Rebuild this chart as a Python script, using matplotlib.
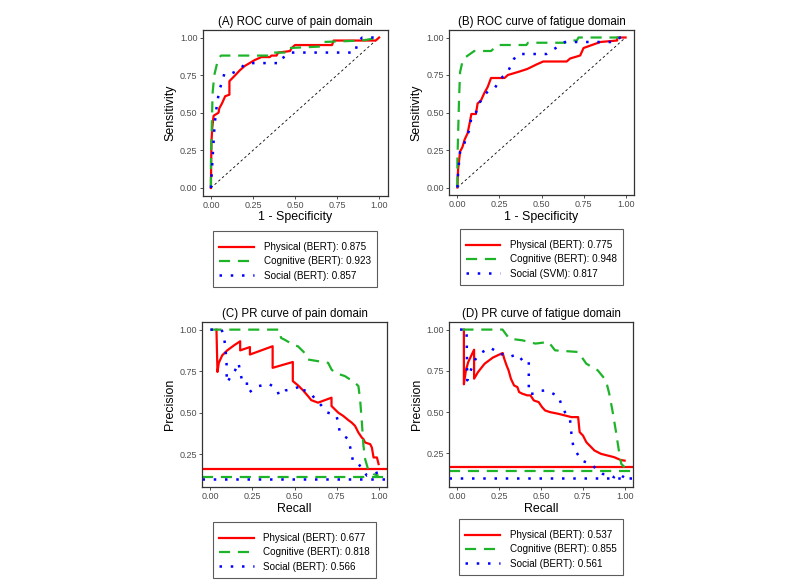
import numpy as np
import matplotlib
matplotlib.use("Agg")
import matplotlib.pyplot as plt

plt.rcParams['font.family'] = ['Liberation Sans', 'DejaVu Sans']

RED = '#FF0000'
GREEN = '#1EB42A'
BLUE = '#0000FF'

# ---- ROC, pain domain (1 - specificity, sensitivity)
roc_pain_phys_x = [0, 0.003, 0.008, 0.016, 0.045, 0.05, 0.065, 0.085, 0.11, 0.11, 0.145, 0.17, 0.2, 0.23, 0.26, 0.3, 0.35, 0.36, 0.39, 0.4, 0.47, 0.48, 0.5, 0.72, 0.73, 0.98, 1.0]
roc_pain_phys_y = [0, 0.30, 0.40, 0.48, 0.50, 0.53, 0.56, 0.61, 0.62, 0.71, 0.75, 0.78, 0.81, 0.83, 0.85, 0.87, 0.87, 0.88, 0.88, 0.90, 0.91, 0.93, 0.95, 0.95, 0.98, 0.98, 1.0]
roc_pain_cog_x = [0, 0, 0.005, 0.01, 0.02, 0.035, 0.045, 0.06, 0.36, 0.37, 0.45, 0.46, 0.65, 0.66, 0.9, 1.0]
roc_pain_cog_y = [0, 0.15, 0.40, 0.63, 0.75, 0.82, 0.86, 0.88, 0.88, 0.90, 0.90, 0.93, 0.94, 0.97, 0.98, 1.0]
roc_pain_soc_x = [0, 0.004, 0.01, 0.016, 0.022, 0.035, 0.05, 0.065, 0.08, 0.12, 0.16, 0.2, 0.25, 0.3, 0.41, 0.42, 0.45, 0.47, 0.86, 0.87, 0.9, 1.0]
roc_pain_soc_y = [0, 0.08, 0.2, 0.31, 0.42, 0.55, 0.65, 0.7, 0.76, 0.76, 0.78, 0.82, 0.83, 0.83, 0.83, 0.86, 0.88, 0.90, 0.90, 0.97, 1.0, 1.0]

# ---- ROC, fatigue domain
roc_fat_phys_x = [0, 0.004, 0.016, 0.03, 0.043, 0.06, 0.073, 0.083, 0.11, 0.12, 0.14, 0.16, 0.18, 0.2, 0.28, 0.3, 0.36, 0.415, 0.47, 0.51, 0.65, 0.67, 0.73, 0.75, 0.8, 0.85, 0.95, 0.95, 1.0]
roc_fat_phys_y = [0, 0.12, 0.24, 0.27, 0.32, 0.36, 0.43, 0.49, 0.49, 0.56, 0.58, 0.63, 0.67, 0.73, 0.73, 0.75, 0.77, 0.79, 0.82, 0.84, 0.84, 0.86, 0.88, 0.93, 0.95, 0.97, 0.98, 1.0, 1.0]
roc_fat_cog_x = [0, 0, 0.004, 0.01, 0.016, 0.03, 0.05, 0.1, 0.2, 0.24, 0.41, 0.42, 0.64, 0.66, 0.71, 0.72, 1.0]
roc_fat_cog_y = [0, 0.18, 0.35, 0.6, 0.77, 0.84, 0.87, 0.91, 0.91, 0.95, 0.95, 0.965, 0.965, 0.98, 0.98, 1.0, 1.0]
roc_fat_soc_x = [0, 0.004, 0.016, 0.04, 0.055, 0.07, 0.085, 0.11, 0.13, 0.15, 0.18, 0.22, 0.25, 0.27, 0.3, 0.32, 0.335, 0.36, 0.53, 0.57, 0.6, 0.64, 0.93, 0.95, 0.97, 1.0]
roc_fat_soc_y = [0, 0.1, 0.24, 0.29, 0.34, 0.38, 0.48, 0.50, 0.56, 0.60, 0.64, 0.66, 0.71, 0.74, 0.77, 0.82, 0.855, 0.89, 0.89, 0.92, 0.94, 0.97, 0.97, 0.99, 1.0, 1.0]

# ---- PR, pain domain (recall, precision)
pr_pain_phys_x = [0.036, 0.042, 0.05, 0.07, 0.1, 0.14, 0.177, 0.177, 0.235, 0.235, 0.37, 0.37, 0.49, 0.49, 0.52, 0.55, 0.58, 0.6, 0.64, 0.72, 0.72, 0.76, 0.79, 0.82, 0.84, 0.86, 0.88, 0.9, 0.91, 0.92, 0.95, 0.96, 0.97, 0.99, 1.0]
pr_pain_phys_y = [1.0, 0.745, 0.80, 0.845, 0.875, 0.905, 0.93, 0.875, 0.895, 0.85, 0.90, 0.77, 0.805, 0.69, 0.665, 0.635, 0.6, 0.575, 0.56, 0.59, 0.54, 0.5, 0.48, 0.455, 0.44, 0.42, 0.38, 0.35, 0.34, 0.32, 0.31, 0.29, 0.23, 0.23, 0.19]
pr_pain_cog_x = [0, 0.41, 0.42, 0.44, 0.5, 0.52, 0.56, 0.58, 0.7, 0.72, 0.74, 0.8, 0.86, 0.88, 0.89, 0.9, 0.91, 0.92, 0.94, 0.97, 1.0]
pr_pain_cog_y = [1.0, 1.0, 0.95, 0.94, 0.905, 0.9, 0.86, 0.82, 0.80, 0.76, 0.74, 0.72, 0.68, 0.66, 0.58, 0.45, 0.3, 0.22, 0.15, 0.13, 0.12]
pr_pain_soc_x = [0, 0.066, 0.08, 0.086, 0.092, 0.096, 0.096, 0.1, 0.116, 0.147, 0.167, 0.177, 0.189, 0.217, 0.217, 0.233, 0.277, 0.307, 0.347, 0.378, 0.398, 0.408, 0.448, 0.498, 0.548, 0.558, 0.598, 0.629, 0.659, 0.689, 0.719, 0.749, 0.759, 0.769, 0.789, 0.819, 0.829, 0.839, 0.849, 0.88, 0.91, 0.93, 0.97, 1.0]
pr_pain_soc_y = [1.0, 1.0, 0.966, 0.915, 0.855, 0.795, 0.735, 0.68, 0.71, 0.755, 0.8, 0.745, 0.69, 0.69, 0.634, 0.624, 0.658, 0.664, 0.674, 0.654, 0.634, 0.604, 0.634, 0.644, 0.664, 0.634, 0.614, 0.574, 0.544, 0.503, 0.493, 0.483, 0.443, 0.383, 0.363, 0.342, 0.302, 0.252, 0.202, 0.192, 0.151, 0.121, 0.131, 0.141]

# ---- PR, fatigue domain
pr_fat_phys_x = [0.039, 0.039, 0.051, 0.065, 0.084, 0.1, 0.1, 0.124, 0.163, 0.212, 0.271, 0.28, 0.294, 0.306, 0.32, 0.339, 0.359, 0.369, 0.388, 0.418, 0.437, 0.457, 0.486, 0.506, 0.525, 0.555, 0.604, 0.643, 0.682, 0.722, 0.731, 0.751, 0.771, 0.79, 0.82, 0.859, 0.898, 0.937, 0.976, 1.0]
pr_fat_phys_y = [1.0, 0.668, 0.753, 0.803, 0.844, 0.878, 0.702, 0.743, 0.793, 0.83, 0.858, 0.824, 0.783, 0.753, 0.702, 0.661, 0.651, 0.621, 0.611, 0.601, 0.601, 0.57, 0.56, 0.53, 0.509, 0.499, 0.489, 0.479, 0.469, 0.469, 0.378, 0.357, 0.317, 0.297, 0.266, 0.246, 0.236, 0.226, 0.209, 0.205]
pr_fat_cog_x = [0.03, 0.27, 0.31, 0.388, 0.467, 0.545, 0.584, 0.722, 0.771, 0.839, 0.888, 0.908, 0.927, 0.947, 0.967, 0.98, 1.0]
pr_fat_cog_y = [1.0, 1.0, 0.945, 0.935, 0.915, 0.925, 0.874, 0.864, 0.793, 0.753, 0.692, 0.611, 0.509, 0.388, 0.256, 0.185, 0.165]
pr_fat_soc_x = [0.016, 0.055, 0.059, 0.084, 0.104, 0.133, 0.196, 0.222, 0.241, 0.271, 0.31, 0.359, 0.388, 0.427, 0.427, 0.457, 0.486, 0.525, 0.565, 0.604, 0.624, 0.643, 0.673, 0.682, 0.692, 0.712, 0.741, 0.771, 0.8, 0.839, 0.869, 0.908, 0.937, 0.967, 0.996]
pr_fat_soc_y = [1.0, 1.0, 0.692, 0.763, 0.814, 0.854, 0.891, 0.874, 0.85, 0.85, 0.834, 0.85, 0.814, 0.814, 0.611, 0.611, 0.627, 0.631, 0.615, 0.595, 0.54, 0.499, 0.459, 0.368, 0.297, 0.256, 0.205, 0.195, 0.185, 0.145, 0.124, 0.12, 0.104, 0.124, 0.104]

# baselines (class prevalence) for the PR panels: physical, cognitive, social
pr_pain_base = [0.16, 0.115, 0.10]
pr_fat_base = [0.165, 0.145, 0.10]

# legend texts
labels_a = ['Physical (BERT): 0.875', 'Cognitive (BERT): 0.923', 'Social (BERT): 0.857']
labels_b = ['Physical (BERT): 0.775', 'Cognitive (BERT): 0.948', 'Social (SVM): 0.817']
labels_c = ['Physical (BERT): 0.677', 'Cognitive (BERT): 0.818', 'Social (BERT): 0.566']
labels_d = ['Physical (BERT): 0.537', 'Cognitive (BERT): 0.855', 'Social (BERT): 0.561']

ticks = [0, 0.25, 0.5, 0.75, 1.0]
tick_labels = ['0.00', '0.25', '0.50', '0.75', '1.00']

styles = [
    dict(color=RED, lw=1.6, ls='-'),
    dict(color=GREEN, lw=1.6, ls=(0, (5, 3.5))),
    dict(color=BLUE, lw=1.8, ls=(0, (1, 3.5))),
]


def style_axes(ax, title, xlabel, ylabel, ylim, yticks):
    ax.set_xlim(-0.05, 1.05)
    ax.set_ylim(*ylim)
    ax.set_xticks(ticks)
    ax.set_xticklabels(tick_labels)
    ax.set_yticks(yticks)
    ax.set_yticklabels(['%.2f' % t for t in yticks])
    ax.tick_params(length=2.2, width=0.6, color='#333333', labelcolor='#4D4D4D',
                   labelsize=6.5, pad=1.5)
    for s in ax.spines.values():
        s.set_color('#333333')
        s.set_linewidth(0.9)
    ax.set_title(title, fontsize=8.3, pad=3.5)
    ax.set_xlabel(xlabel, fontsize=8.9, labelpad=1)
    ax.set_ylabel(ylabel, fontsize=8.9, labelpad=2.5)


def add_legend(fig, ax, labels, top):
    handles = [plt.Line2D([], [], **st) for st in styles]
    pos = ax.get_position()
    # empty title keeps a little extra space above the first row, as in ggplot
    leg = ax.legend(handles, labels, loc='upper center',
                    bbox_to_anchor=(pos.x0 + pos.width / 2, top),
                    bbox_transform=fig.transFigure, fontsize=7.1,
                    title=' ', title_fontsize=1,
                    handlelength=3.5, handletextpad=1.0, labelspacing=0.42,
                    borderpad=0.62, borderaxespad=0, fancybox=False, frameon=True)
    leg.get_frame().set_edgecolor('#333333')
    leg.get_frame().set_linewidth(0.8)


fig = plt.figure(figsize=(8, 5.88), dpi=100)
W, H = 800.0, 588.0

ax_a = fig.add_axes([202.5 / W, 1 - 195.5 / H, 185 / W, 165.5 / H])
ax_b = fig.add_axes([449 / W, 1 - 195 / H, 185 / W, 165 / H])
ax_c = fig.add_axes([202 / W, 1 - 487 / H, 185 / W, 165 / H])
ax_d = fig.add_axes([449 / W, 1 - 487 / H, 184 / W, 165 / H])

# ROC panels
for ax, curves in [(ax_a, [(roc_pain_phys_x, roc_pain_phys_y), (roc_pain_cog_x, roc_pain_cog_y), (roc_pain_soc_x, roc_pain_soc_y)]),
                   (ax_b, [(roc_fat_phys_x, roc_fat_phys_y), (roc_fat_cog_x, roc_fat_cog_y), (roc_fat_soc_x, roc_fat_soc_y)])]:
    ax.plot([0, 1], [0, 1], color='black', lw=0.6, ls=(0, (3, 3)))
    for (x, y), st in zip(curves, styles):
        ax.plot(x, y, **st)

style_axes(ax_a, '(A) ROC curve of pain domain', '1 - Specificity', 'Sensitivity', (-0.05, 1.05), ticks)
style_axes(ax_b, '(B) ROC curve of fatigue domain', '1 - Specificity', 'Sensitivity', (-0.05, 1.05), ticks)

# PR panels
for ax, curves, base in [(ax_c, [(pr_pain_phys_x, pr_pain_phys_y), (pr_pain_cog_x, pr_pain_cog_y), (pr_pain_soc_x, pr_pain_soc_y)], pr_pain_base),
                         (ax_d, [(pr_fat_phys_x, pr_fat_phys_y), (pr_fat_cog_x, pr_fat_cog_y), (pr_fat_soc_x, pr_fat_soc_y)], pr_fat_base)]:
    for b, st in zip(base, styles):
        ax.axhline(b, **st)
    for (x, y), st in zip(curves, styles):
        ax.plot(x, y, **st)

style_axes(ax_c, '(C) PR curve of pain domain', 'Recall', 'Precision', (0.052, 1.046), ticks[1:])
style_axes(ax_d, '(D) PR curve of fatigue domain', 'Recall', 'Precision', (0.045, 1.046), ticks[1:])

add_legend(fig, ax_a, labels_a, 1 - 231 / H)
add_legend(fig, ax_b, labels_b, 1 - 229 / H)
add_legend(fig, ax_c, labels_c, 1 - 522 / H)
add_legend(fig, ax_d, labels_d, 1 - 519 / H)

fig.savefig('out.png', dpi=100)
